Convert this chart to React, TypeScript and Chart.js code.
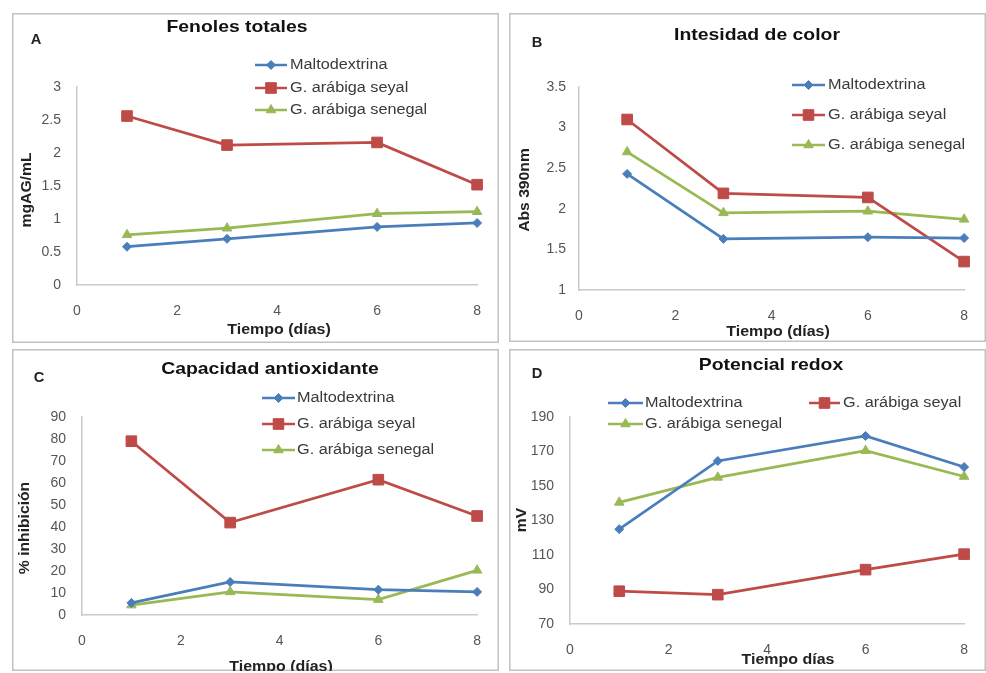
import React, { useEffect, useRef } from "react";
import { Chart, registerables } from "chart.js";
import { drawPoint } from "chart.js/helpers";

Chart.register(...registerables);

// ---------------- DATA ----------------
const days = [1, 3, 6, 8];
const seriesNames = ["Maltodextrina", "G. arábiga seyal", "G. arábiga senegal"];

// A: Fenoles totales (mgAG/mL)
const maltoA = [0.58, 0.7, 0.88, 0.94];
const seyalA = [2.56, 2.12, 2.16, 1.52];
const senegalA = [0.76, 0.86, 1.08, 1.11];

// B: Intesidad de color (Abs 390nm)
const maltoB = [2.43, 1.63, 1.65, 1.64];
const seyalB = [3.1, 2.19, 2.14, 1.35];
const senegalB = [2.7, 1.95, 1.97, 1.87];

// C: Capacidad antioxidante (% inhibición)
const maltoC = [5.5, 15, 11.5, 10.5];
const seyalC = [79, 42, 61.5, 45];
const senegalC = [4.5, 10.5, 7, 20.3];

// D: Potencial redox (mV)
const maltoD = [125, 164.5, 179, 161];
const seyalD = [89, 87, 101.5, 110.5];
const senegalD = [140.5, 155, 170.5, 155.5];

const xMin = 0;
const xMax = 8;
const xStep = 2;

// ---------------- STYLE ----------------
const FONT = '"Liberation Sans", Arial, Helvetica, sans-serif';
const COLORS = ["#4A7EBB", "#BE4B48", "#98B954"];
const POINT_STYLES = ["rectRot", "rect", "triangle"];
const POINT_RADII = [4.5, 7.5, 5.5];
const AXIS_COLOR = "#cacaca";
const BORDER_COLOR = "#c2c2c2";
const TICK_COLOR = "#555555";

type Legend = { x0: number; x1: number; tx: number; y: number };
type Panel = {
  left: number;
  top: number;
  width: number;
  height: number;
  area: { l: number; t: number; r: number; b: number };
  letter: string;
  letterPos: [number, number];
  title: string;
  titlePos: [number, number];
  xTitle: string;
  xTitlePos: [number, number];
  yTitle: string;
  yTitlePos: [number, number];
  yMin: number;
  yMax: number;
  yStep: number;
  yPad: number;
  series: number[][];
  legend: Legend[];
};

const PANELS: Panel[] = [
  {
    left: 12, top: 13, width: 487, height: 330,
    area: { l: 65, t: 74, r: 468, b: 272 },
    letter: "A", letterPos: [24, 27],
    title: "Fenoles totales", titlePos: [225, 14],
    xTitle: "Tiempo (días)", xTitlePos: [267, 317],
    yTitle: "mgAG/mL", yTitlePos: [15, 177],
    yMin: 0, yMax: 3, yStep: 0.5, yPad: 16,
    series: [maltoA, seyalA, senegalA],
    legend: [
      { x0: 243, x1: 275, tx: 278, y: 52 },
      { x0: 243, x1: 275, tx: 278, y: 75 },
      { x0: 243, x1: 275, tx: 278, y: 97 },
    ],
  },
  {
    left: 509, top: 13, width: 477, height: 329,
    area: { l: 70, t: 74, r: 468, b: 277 },
    letter: "B", letterPos: [28, 30],
    title: "Intesidad de color", titlePos: [248, 22],
    xTitle: "Tiempo (días)", xTitlePos: [269, 319],
    yTitle: "Abs 390nm", yTitlePos: [16, 177],
    yMin: 1, yMax: 3.5, yStep: 0.5, yPad: 13,
    series: [maltoB, seyalB, senegalB],
    legend: [
      { x0: 283, x1: 316, tx: 319, y: 72 },
      { x0: 283, x1: 316, tx: 319, y: 102 },
      { x0: 283, x1: 316, tx: 319, y: 132 },
    ],
  },
  {
    left: 12, top: 349, width: 487, height: 322,
    area: { l: 70, t: 68, r: 469, b: 266 },
    letter: "C", letterPos: [27, 29],
    title: "Capacidad antioxidante", titlePos: [258, 20],
    xTitle: "Tiempo (días)", xTitlePos: [269, 318],
    yTitle: "% inhibición", yTitlePos: [13, 179],
    yMin: 0, yMax: 90, yStep: 10, yPad: 16,
    series: [maltoC, seyalC, senegalC],
    legend: [
      { x0: 250, x1: 283, tx: 285, y: 49 },
      { x0: 250, x1: 283, tx: 285, y: 75 },
      { x0: 250, x1: 283, tx: 285, y: 101 },
    ],
  },
  {
    left: 509, top: 349, width: 477, height: 322,
    area: { l: 61, t: 68, r: 463, b: 275 },
    letter: "D", letterPos: [28, 25],
    title: "Potencial redox", titlePos: [262, 16],
    xTitle: "Tiempo días", xTitlePos: [279, 311],
    yTitle: "mV", yTitlePos: [13, 171],
    yMin: 70, yMax: 190, yStep: 20, yPad: 16,
    series: [maltoD, seyalD, senegalD],
    legend: [
      { x0: 99, x1: 134, tx: 136, y: 54 },
      { x0: 300, x1: 331, tx: 334, y: 54 },
      { x0: 99, x1: 134, tx: 136, y: 75 },
    ],
  },
];

function drawText(
  ctx: CanvasRenderingContext2D,
  s: string,
  x: number,
  y: number,
  size: number,
  bold: boolean,
  color: string,
  align: CanvasTextAlign = "center",
  sx = 1,
  rot = 0
) {
  ctx.save();
  ctx.translate(x, y);
  if (rot) ctx.rotate(rot);
  ctx.scale(sx, 1);
  ctx.font = `${bold ? "bold " : ""}${size}px ${FONT}`;
  ctx.fillStyle = color;
  ctx.textAlign = align;
  ctx.textBaseline = "middle";
  ctx.fillText(s, 0, 0);
  ctx.restore();
}

const tickFmt = (v: any) => String(Number(Number(v).toFixed(4)));

function PanelChart({ p }: { p: Panel }) {
  const ref = useRef<HTMLCanvasElement | null>(null);

  useEffect(() => {
    if (!ref.current) return;
    const decor = {
      id: "decor",
      afterDraw(chart: any) {
        const ctx: CanvasRenderingContext2D = chart.ctx;
        // panel border
        ctx.save();
        ctx.strokeStyle = BORDER_COLOR;
        ctx.lineWidth = 1.5;
        ctx.strokeRect(0.75, 0.75, p.width - 1.5, p.height - 1.5);
        ctx.restore();
        // title + letter
        drawText(ctx, p.title, p.titlePos[0], p.titlePos[1], 17, true, "#111", "center", 1.14);
        drawText(ctx, p.letter, p.letterPos[0], p.letterPos[1], 14, true, "#222", "center", 1.05);
        // axis titles
        drawText(ctx, p.xTitle, p.xTitlePos[0], p.xTitlePos[1], 14, true, "#222", "center", 1.14);
        drawText(ctx, p.yTitle, p.yTitlePos[0], p.yTitlePos[1], 14, true, "#222", "center", 1.12, -Math.PI / 2);
        // legend
        p.legend.forEach((lg, i) => {
          ctx.save();
          ctx.strokeStyle = COLORS[i];
          ctx.lineWidth = 2.5;
          ctx.beginPath();
          ctx.moveTo(lg.x0, lg.y);
          ctx.lineTo(lg.x1, lg.y);
          ctx.stroke();
          ctx.fillStyle = COLORS[i];
          ctx.strokeStyle = COLORS[i];
          ctx.lineWidth = 1;
          drawPoint(
            ctx,
            { pointStyle: POINT_STYLES[i] as any, radius: POINT_RADII[i], rotation: 0, borderWidth: 1 } as any,
            (lg.x0 + lg.x1) / 2,
            lg.y
          );
          ctx.restore();
          drawText(ctx, seriesNames[i], lg.tx, lg.y, 14, false, "#3a3a3a", "left", 1.16);
        });
      },
    };

    const xAxisH = 30;
    const chart = new Chart(ref.current, {
      type: "line",
      data: {
        datasets: p.series.map((vals, i) => ({
          label: seriesNames[i],
          data: days.map((d, j) => ({ x: d, y: vals[j] })),
          borderColor: COLORS[i],
          backgroundColor: COLORS[i],
          borderWidth: 2.75,
          pointStyle: POINT_STYLES[i] as any,
          pointRadius: POINT_RADII[i],
          pointBorderWidth: 1,
          pointBackgroundColor: COLORS[i],
          pointBorderColor: COLORS[i],
          tension: 0,
          clip: false as any,
        })),
      },
      options: {
        animation: false,
        responsive: false,
        maintainAspectRatio: false,
        events: [],
        layout: {
          padding: {
            left: 0,
            top: p.area.t,
            right: p.width - p.area.r,
            bottom: p.height - p.area.b - xAxisH,
          },
        },
        plugins: {
          legend: { display: false },
          title: { display: false },
          tooltip: { enabled: false },
        },
        scales: {
          x: {
            type: "linear",
            min: xMin,
            max: xMax,
            ticks: {
              stepSize: xStep,
              padding: 18,
              color: TICK_COLOR,
              font: { size: 14, family: FONT },
              maxRotation: 0,
              callback: tickFmt,
            },
            grid: { display: false, drawTicks: false },
            border: { display: true, color: AXIS_COLOR, width: 1.5 },
            afterFit: (scale: any) => {
              scale.height = xAxisH;
            },
          },
          y: {
            type: "linear",
            min: p.yMin,
            max: p.yMax,
            ticks: {
              stepSize: p.yStep,
              padding: p.yPad,
              color: TICK_COLOR,
              font: { size: 14, family: FONT },
              callback: tickFmt,
            },
            grid: { display: false, drawTicks: false },
            border: { display: true, color: AXIS_COLOR, width: 1.5 },
            afterFit: (scale: any) => {
              scale.width = p.area.l;
            },
          },
        },
      },
      plugins: [decor],
    });
    return () => chart.destroy();
  }, [p]);

  return (
    <canvas
      ref={ref}
      width={p.width}
      height={p.height}
      style={{ position: "absolute", left: p.left, top: p.top, width: p.width, height: p.height }}
    />
  );
}

export default function App() {
  return (
    <div
      style={{
        position: "absolute",
        left: 0,
        top: 0,
        width: 986,
        height: 673,
        background: "#ffffff",
        overflow: "hidden",
      }}
    >
      {PANELS.map((p) => (
        <PanelChart key={p.letter} p={p} />
      ))}
    </div>
  );
}
